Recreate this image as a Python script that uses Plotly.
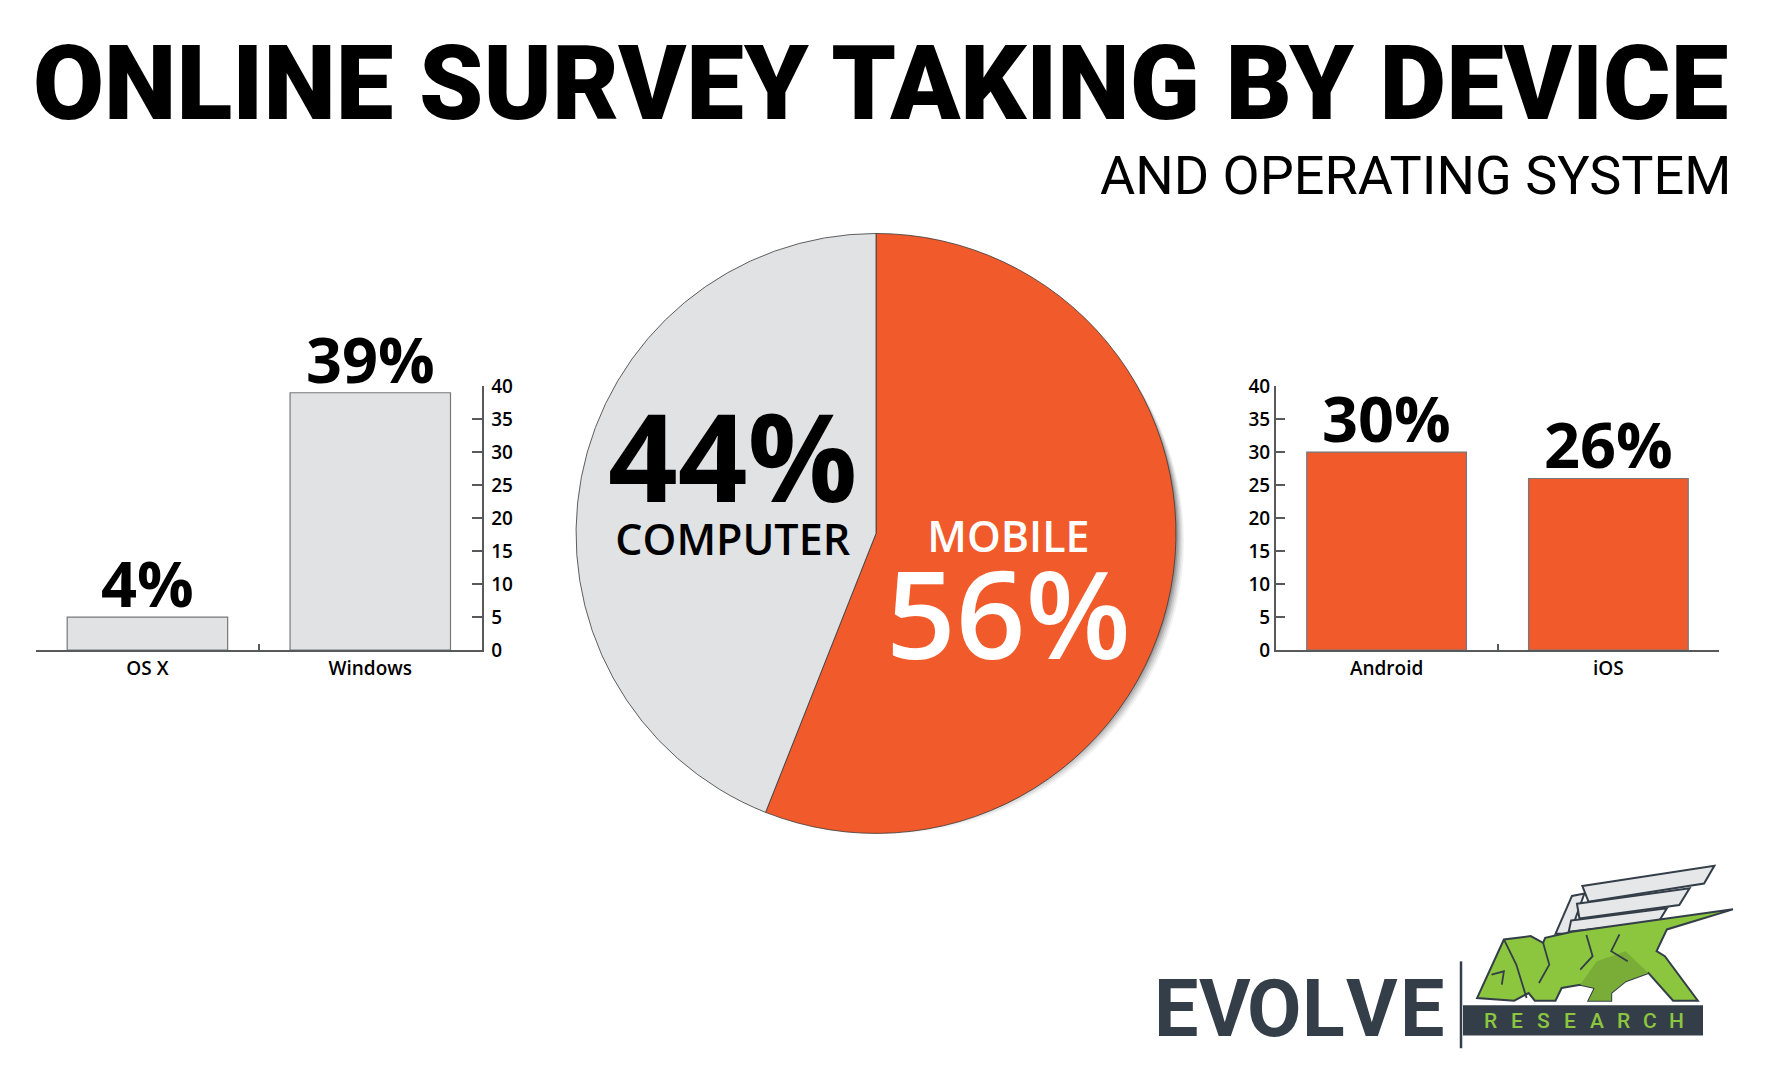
import plotly.graph_objects as go

# The page body has an 8px default margin, so the figure is drawn 8px in from the
# top-left corner; all positions below are given in page pixels and converted.
PAGE_W, PAGE_H = 1766, 1080
OFF = 8
FW, FH = PAGE_W - 2 * OFF, PAGE_H - 2 * OFF - 2

# ---------------- data ----------------
title_text = "ONLINE SURVEY TAKING BY DEVICE"
subtitle_text = "AND OPERATING SYSTEM"

os_categories = ["OS X", "Windows"]
os_bar_values = [5, 39]          # bar heights as drawn
os_labels = ["4%", "39%"]        # printed values

mobile_categories = ["Android", "iOS"]
mobile_bar_values = [30, 26]
mobile_labels = ["30%", "26%"]

pie_categories = ["MOBILE", "COMPUTER"]
pie_values = [56, 44]

y_ticks = [0, 5, 10, 15, 20, 25, 30, 35, 40]

brand_name = "EVOLVE"
brand_sub = "RESEARCH"

ORANGE = "#f15a2b"
LIGHT = "#e1e2e4"
AXIS = "#58595b"
DARK = "#333e48"
GREEN = "#8cc63f"
FONT = "Open Sans"


def pxx(x):
    return (x - OFF) / FW


def pxy(y):
    return 1 - (y - OFF) / FH


def px(x, y):
    return pxx(x), pxy(y)


fig = go.Figure()

# ---- left bar chart (computer OS) ----
fig.add_trace(go.Bar(
    x=os_categories, y=os_bar_values, textposition="none",
    marker=dict(color=LIGHT, line=dict(color="#77787b", width=1.2)),
    width=0.72, xaxis="x", yaxis="y", showlegend=False, hoverinfo="skip",
))

# ---- right bar chart (mobile OS) ----
fig.add_trace(go.Bar(
    x=mobile_categories, y=mobile_bar_values, textposition="none",
    marker=dict(color=ORANGE, line=dict(color="#77787b", width=1.2)),
    width=0.72, xaxis="x2", yaxis="y2", showlegend=False, hoverinfo="skip",
))

# ---- pie ----
cx, cy, r = 876.0, 533.3, 300.0
r_dom = 307.5   # plotly draws the pie slightly inside its domain box
fig.add_trace(go.Pie(
    labels=pie_categories, values=pie_values, sort=False,
    direction="clockwise", rotation=0,
    marker=dict(colors=[ORANGE, LIGHT], line=dict(color="#3a3a3a", width=0.8)),
    textinfo="none", hoverinfo="skip", showlegend=False,
    domain=dict(x=[pxx(cx - r_dom), pxx(cx + r_dom)], y=[pxy(cy + r_dom), pxy(cy - r_dom)]),
))

shapes = []
# pie drop shadow (soft, offset to lower right)
for off, alpha in [(8, 0.05), (6.5, 0.07), (5, 0.09), (3.5, 0.12), (2, 0.15)]:
    shapes.append(dict(type="circle", xref="paper", yref="paper",
                       x0=pxx(cx - r + off), y0=pxy(cy + r + off),
                       x1=pxx(cx + r + off), y1=pxy(cy - r + off),
                       fillcolor=f"rgba(0,0,0,{alpha})", line=dict(width=0), layer="below"))

# ---- axes ----
axis_font = dict(family=FONT, size=19, color="black", weight=600)
common_x = dict(type="category", showline=True, linecolor=AXIS, linewidth=1.5,
                ticks="inside", tickson="boundaries", ticklen=6, tickcolor=AXIS, tickwidth=1.5,
                showgrid=False, zeroline=False, tickfont=axis_font, range=[-0.5, 1.5], fixedrange=True)
common_y = dict(range=[0, 40], tickvals=y_ticks, showline=True, linecolor=AXIS, linewidth=1.5,
                ticks="inside", ticklen=10, tickcolor=AXIS, tickwidth=1.5, showgrid=False,
                zeroline=False, tickfont=axis_font, fixedrange=True)

y_dom = [pxy(652.8), pxy(382.3)]

fig.update_layout(
    width=FW, height=FH, margin=dict(l=0, r=0, t=0, b=0),
    paper_bgcolor="white", plot_bgcolor="rgba(0,0,0,0)",
    font=dict(family=FONT),
    xaxis=dict(domain=[pxx(36.0), pxx(481.7)], anchor="y", **common_x),
    yaxis=dict(domain=y_dom, anchor="x", side="right", ticklabelstandoff=4, **common_y),
    xaxis2=dict(domain=[pxx(1275.7), pxx(1719.3)], anchor="y2", **common_x),
    yaxis2=dict(domain=y_dom, anchor="x2", side="left", **common_y),
)

annotations = []

# bar value labels, placed at each bar's top through the axes
bar_label_font = dict(family=FONT, size=63, color="black", weight=700)
for cats, vals, labs, xr, yr in [(os_categories, os_bar_values, os_labels, "x", "y"),
                                 (mobile_categories, mobile_bar_values, mobile_labels, "x2", "y2")]:
    for c, v, t in zip(cats, vals, labs):
        annotations.append(dict(text=t, x=c, y=v, xref=xr, yref=yr, xanchor="center",
                                yanchor="bottom", yshift=-10, showarrow=False, font=bar_label_font))

# title & subtitle
annotations.append(dict(text=title_text, x=pxx(880), y=pxy(71.6), xanchor="center", yanchor="middle",
                        xref="paper", yref="paper", showarrow=False,
                        font=dict(family="Roboto", size=103, color="black", weight=900)))
annotations.append(dict(text=subtitle_text, x=pxx(1733), y=pxy(166.5), xanchor="right", yanchor="middle",
                        xref="paper", yref="paper", showarrow=False,
                        font=dict(family="Roboto", size=54, color="black", weight=400)))

# pie labels (two-line blocks)
computer_val = pie_values[pie_categories.index("COMPUTER")]
mobile_val = pie_values[pie_categories.index("MOBILE")]
annotations.append(dict(
    text=(f"<span style='font-size:122px;font-weight:700'>{computer_val}%</span><br>"
          f"<span style='font-size:43px;font-weight:600'>COMPUTER</span>"),
    x=pxx(732), y=pxy(366), xanchor="center", yanchor="top", align="center",
    xref="paper", yref="paper", showarrow=False,
    font=dict(family=FONT, size=40.4, color="black")))
annotations.append(dict(
    text=(f"<span style='font-size:43px;font-weight:600'>MOBILE</span><br>"
          f"<span style='font-size:122px;font-weight:600'>{mobile_val}%</span>"),
    x=pxx(1009), y=pxy(503), xanchor="center", yanchor="top", align="center",
    xref="paper", yref="paper", showarrow=False,
    font=dict(family=FONT, size=82.1, color="white")))

# ---- logo ----
LDY = 11  # vertical nudge of the whole logo block
for i, ch in enumerate(brand_name):
    annotations.append(dict(text=ch, x=pxx(1176 + i * 49.1), y=pxy(1009.3 + LDY),
                            xanchor="center", yanchor="middle", xref="paper", yref="paper",
                            showarrow=False,
                            font=dict(family="Roboto", size=79, color=DARK, weight=700)))
shapes.append(dict(type="line", xref="paper", yref="paper", x0=pxx(1461), y0=pxy(961 + LDY),
                   x1=pxx(1461), y1=pxy(1050 + LDY), line=dict(color=DARK, width=2.5)))
shapes.append(dict(type="rect", xref="paper", yref="paper", x0=pxx(1463), y0=pxy(1037 + LDY),
                   x1=pxx(1703), y1=pxy(1006 + LDY), fillcolor=DARK, line=dict(width=0)))
for i, ch in enumerate(brand_sub):
    annotations.append(dict(text=ch, x=pxx(1490 + i * 26.7), y=pxy(1022.5 + LDY),
                            xanchor="center", yanchor="middle", xref="paper", yref="paper",
                            showarrow=False,
                            font=dict(family="Roboto", size=21, color=GREEN, weight=500)))


def zmap(zx, zy):
    fx = 1475 + (zx - 865) * (260 / 630)
    fy = 862 + LDY + (zy - 72) * (140 / 408)
    return px(fx, fy)


def path(points, close=True):
    s = ""
    for i, (zx, zy) in enumerate(points):
        x, y = zmap(zx, zy)
        s += ("M" if i == 0 else "L") + f"{x:.5f},{y:.5f} "
    return s + ("Z" if close else "")


wing_pieces = [
    [(1060, 278), (1100, 165), (1130, 158), (1095, 278)],
    [(1125, 135), (1445, 75), (1420, 128), (1140, 182)],
    [(1112, 188), (1385, 142), (1360, 192), (1118, 232)],
    [(1098, 238), (1330, 202), (1310, 242), (1092, 272)],
]
for wp in wing_pieces:
    shapes.append(dict(type="path", xref="paper", yref="paper", path=path(wp),
                       fillcolor="#e6e7e8", line=dict(color=DARK, width=2)))

lion = [(870, 470), (935, 295), (1000, 285), (1030, 305), (1035, 290), (1100, 272), (1490, 205),
        (1330, 265), (1305, 330), (1325, 345), (1405, 478), (1345, 478), (1285, 395), (1230, 420),
        (1195, 455), (1195, 478), (1140, 478), (1155, 440), (1120, 430), (1075, 440), (1060, 478),
        (1010, 478), (995, 455), (960, 478)]
shapes.append(dict(type="path", xref="paper", yref="paper", path=path(lion),
                   fillcolor=GREEN, line=dict(color=DARK, width=2)))
shade = [(1120, 430), (1160, 360), (1230, 330), (1285, 395), (1230, 420), (1195, 455), (1195, 478),
         (1140, 478), (1155, 440)]
shapes.append(dict(type="path", xref="paper", yref="paper", path=path(shade),
                   fillcolor="#7aac38", line=dict(width=0)))
inner_lines = [
    [(935, 295), (965, 370), (990, 470)],
    [(1030, 305), (1045, 370), (1020, 425)],
    [(1135, 282), (1150, 345), (1120, 385)],
    [(1215, 280), (1195, 330), (1235, 360)],
    [(905, 400), (935, 390), (930, 430)],
]
for ln in inner_lines:
    shapes.append(dict(type="path", xref="paper", yref="paper", path=path(ln, close=False),
                       line=dict(color=DARK, width=1.8)))

fig.update_layout(shapes=shapes, annotations=annotations)
fig.write_html("out.html")
